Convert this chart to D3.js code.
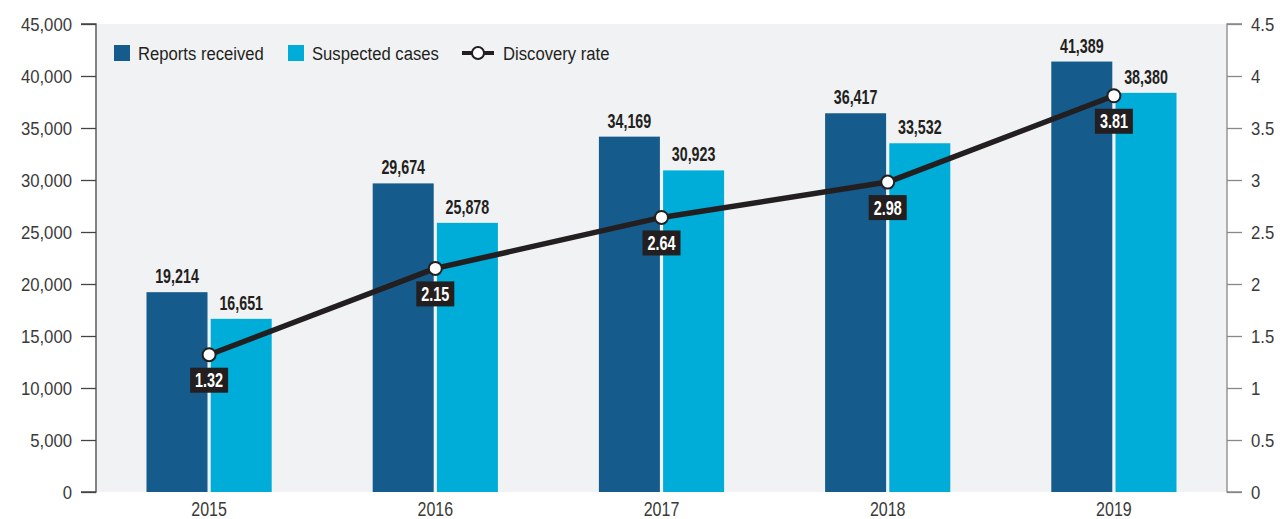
<!DOCTYPE html>
<html><head><meta charset="utf-8">
<script src="https://cdn.jsdelivr.net/npm/d3@7"></script>
<style>
body{margin:0;background:#fff;}
text{font-family:"Liberation Sans",Arial,sans-serif;}
</style></head>
<body><svg id="c" width="1282" height="519"></svg>
<script>
const years = ["2015","2016","2017","2018","2019"];
const reportsReceived = [19214, 29674, 34169, 36417, 41389];
const suspectedCases = [16651, 25878, 30923, 33532, 38380];
const discoveryRate = [1.32, 2.15, 2.64, 2.98, 3.81];
const leftTicks = [0,5000,10000,15000,20000,25000,30000,35000,40000,45000];
const rightTicks = [0,0.5,1,1.5,2,2.5,3,3.5,4,4.5];

const svg = d3.select("#c");
const L = 96, R = 1227, T = 24, B = 492;
const darkC = "#155b8b", lightC = "#00acd8", lineC = "#231f20";

// condensed text helper
function ctext(g, px, py, str, o) {
  return g.append("text")
    .attr("transform", `translate(${px},${py}) scale(${o.k},1)`)
    .attr("text-anchor", o.anchor || "middle")
    .attr("font-size", o.size).attr("font-weight", o.weight || "normal")
    .attr("fill", o.fill || "#231f20").text(str);
}

svg.append("rect").attr("x", L).attr("y", T).attr("width", R - L).attr("height", B - T).attr("fill", "#f1f2f4");

const x = d3.scaleBand().domain(years).range([L, R]).padding(0);
const y = d3.scaleLinear().domain([0, 45000]).range([B, T]);
const y2 = d3.scaleLinear().domain([0, 4.5]).range([B, T]);
const fmt = d3.format(",");

// left axis
const la = svg.append("g").attr("transform", `translate(${L},0)`)
  .call(d3.axisLeft(y).tickValues(leftTicks).tickFormat(fmt).tickSize(15));
la.select(".domain").attr("stroke", "#444").attr("stroke-width", 1.3).attr("d", `M-15,${B}H0V${T}H-15`);
la.selectAll(".tick line").attr("stroke", "#444").attr("stroke-width", 1.3);
la.selectAll(".tick text").attr("x", null).attr("transform", "translate(-24,0) scale(0.88,1)")
  .attr("font-size", 19).attr("fill", "#3a3a3a").attr("font-family", "Liberation Sans");

const ra = svg.append("g").attr("transform", `translate(${R},0)`)
  .call(d3.axisRight(y2).tickValues(rightTicks).tickFormat(d => String(d)).tickSize(15));
ra.select(".domain").attr("stroke", "#888").attr("stroke-width", 1.3).attr("d", `M15,${B}H0V${T}H15`);
ra.selectAll(".tick line").attr("stroke", "#888").attr("stroke-width", 1.3);
ra.selectAll(".tick text").attr("x", null).attr("transform", "translate(24,0) scale(0.88,1)")
  .attr("font-size", 19).attr("fill", "#3a3a3a").attr("font-family", "Liberation Sans");

// x labels
const xl = svg.append("g");
years.forEach(yr => ctext(xl, x(yr) + x.bandwidth() / 2, 516, yr, {k: 0.8, size: 20, fill: "#3a3a3a"}));

const bw = 61, gap = 1.6;
const bars = svg.append("g");
years.forEach((yr, i) => {
  const cx = x(yr) + x.bandwidth() / 2;
  bars.append("rect").attr("x", cx - gap - bw).attr("y", y(reportsReceived[i]))
    .attr("width", bw).attr("height", B - y(reportsReceived[i])).attr("fill", darkC);
  bars.append("rect").attr("x", cx + gap).attr("y", y(suspectedCases[i]))
    .attr("width", bw).attr("height", B - y(suspectedCases[i])).attr("fill", lightC);
  ctext(bars, cx - gap - bw / 2, y(reportsReceived[i]) - 9, fmt(reportsReceived[i]), {k: 0.68, size: 21, weight: "bold"});
  ctext(bars, cx + gap + bw / 2, y(suspectedCases[i]) - 9, fmt(suspectedCases[i]), {k: 0.68, size: 21, weight: "bold"});
});

// line
const line = d3.line().x((d, i) => x(years[i]) + x.bandwidth() / 2).y(d => y2(d));
svg.append("path").datum(discoveryRate).attr("d", line).attr("fill", "none")
  .attr("stroke", lineC).attr("stroke-width", 5.5).attr("stroke-linejoin", "round");
const pts = svg.append("g");
discoveryRate.forEach((v, i) => {
  const cx = x(years[i]) + x.bandwidth() / 2, cy = y2(v);
  pts.append("circle").attr("cx", cx).attr("cy", cy).attr("r", 6.5)
    .attr("fill", "#fff").attr("stroke", lineC).attr("stroke-width", 2);
  pts.append("rect").attr("x", cx - 19).attr("y", cy + 13).attr("width", 38).attr("height", 25).attr("fill", lineC);
  ctext(pts, cx, cy + 32.5, v.toFixed(2), {k: 0.72, size: 20, weight: "bold", fill: "#fff"});
});

// legend
const lg = svg.append("g");
lg.append("rect").attr("x", 114).attr("y", 45).attr("width", 16).attr("height", 16).attr("fill", darkC);
ctext(lg, 138, 59.5, "Reports received", {k: 0.877, size: 19, anchor: "start"});
lg.append("rect").attr("x", 288).attr("y", 45).attr("width", 16).attr("height", 16).attr("fill", lightC);
ctext(lg, 312, 59.5, "Suspected cases", {k: 0.877, size: 19, anchor: "start"});
lg.append("line").attr("x1", 462).attr("x2", 494).attr("y1", 53).attr("y2", 53).attr("stroke", lineC).attr("stroke-width", 4);
lg.append("circle").attr("cx", 478).attr("cy", 53).attr("r", 6).attr("fill", "#fff").attr("stroke", lineC).attr("stroke-width", 2);
ctext(lg, 503, 59.5, "Discovery rate", {k: 0.877, size: 19, anchor: "start"});
</script></body></html>
